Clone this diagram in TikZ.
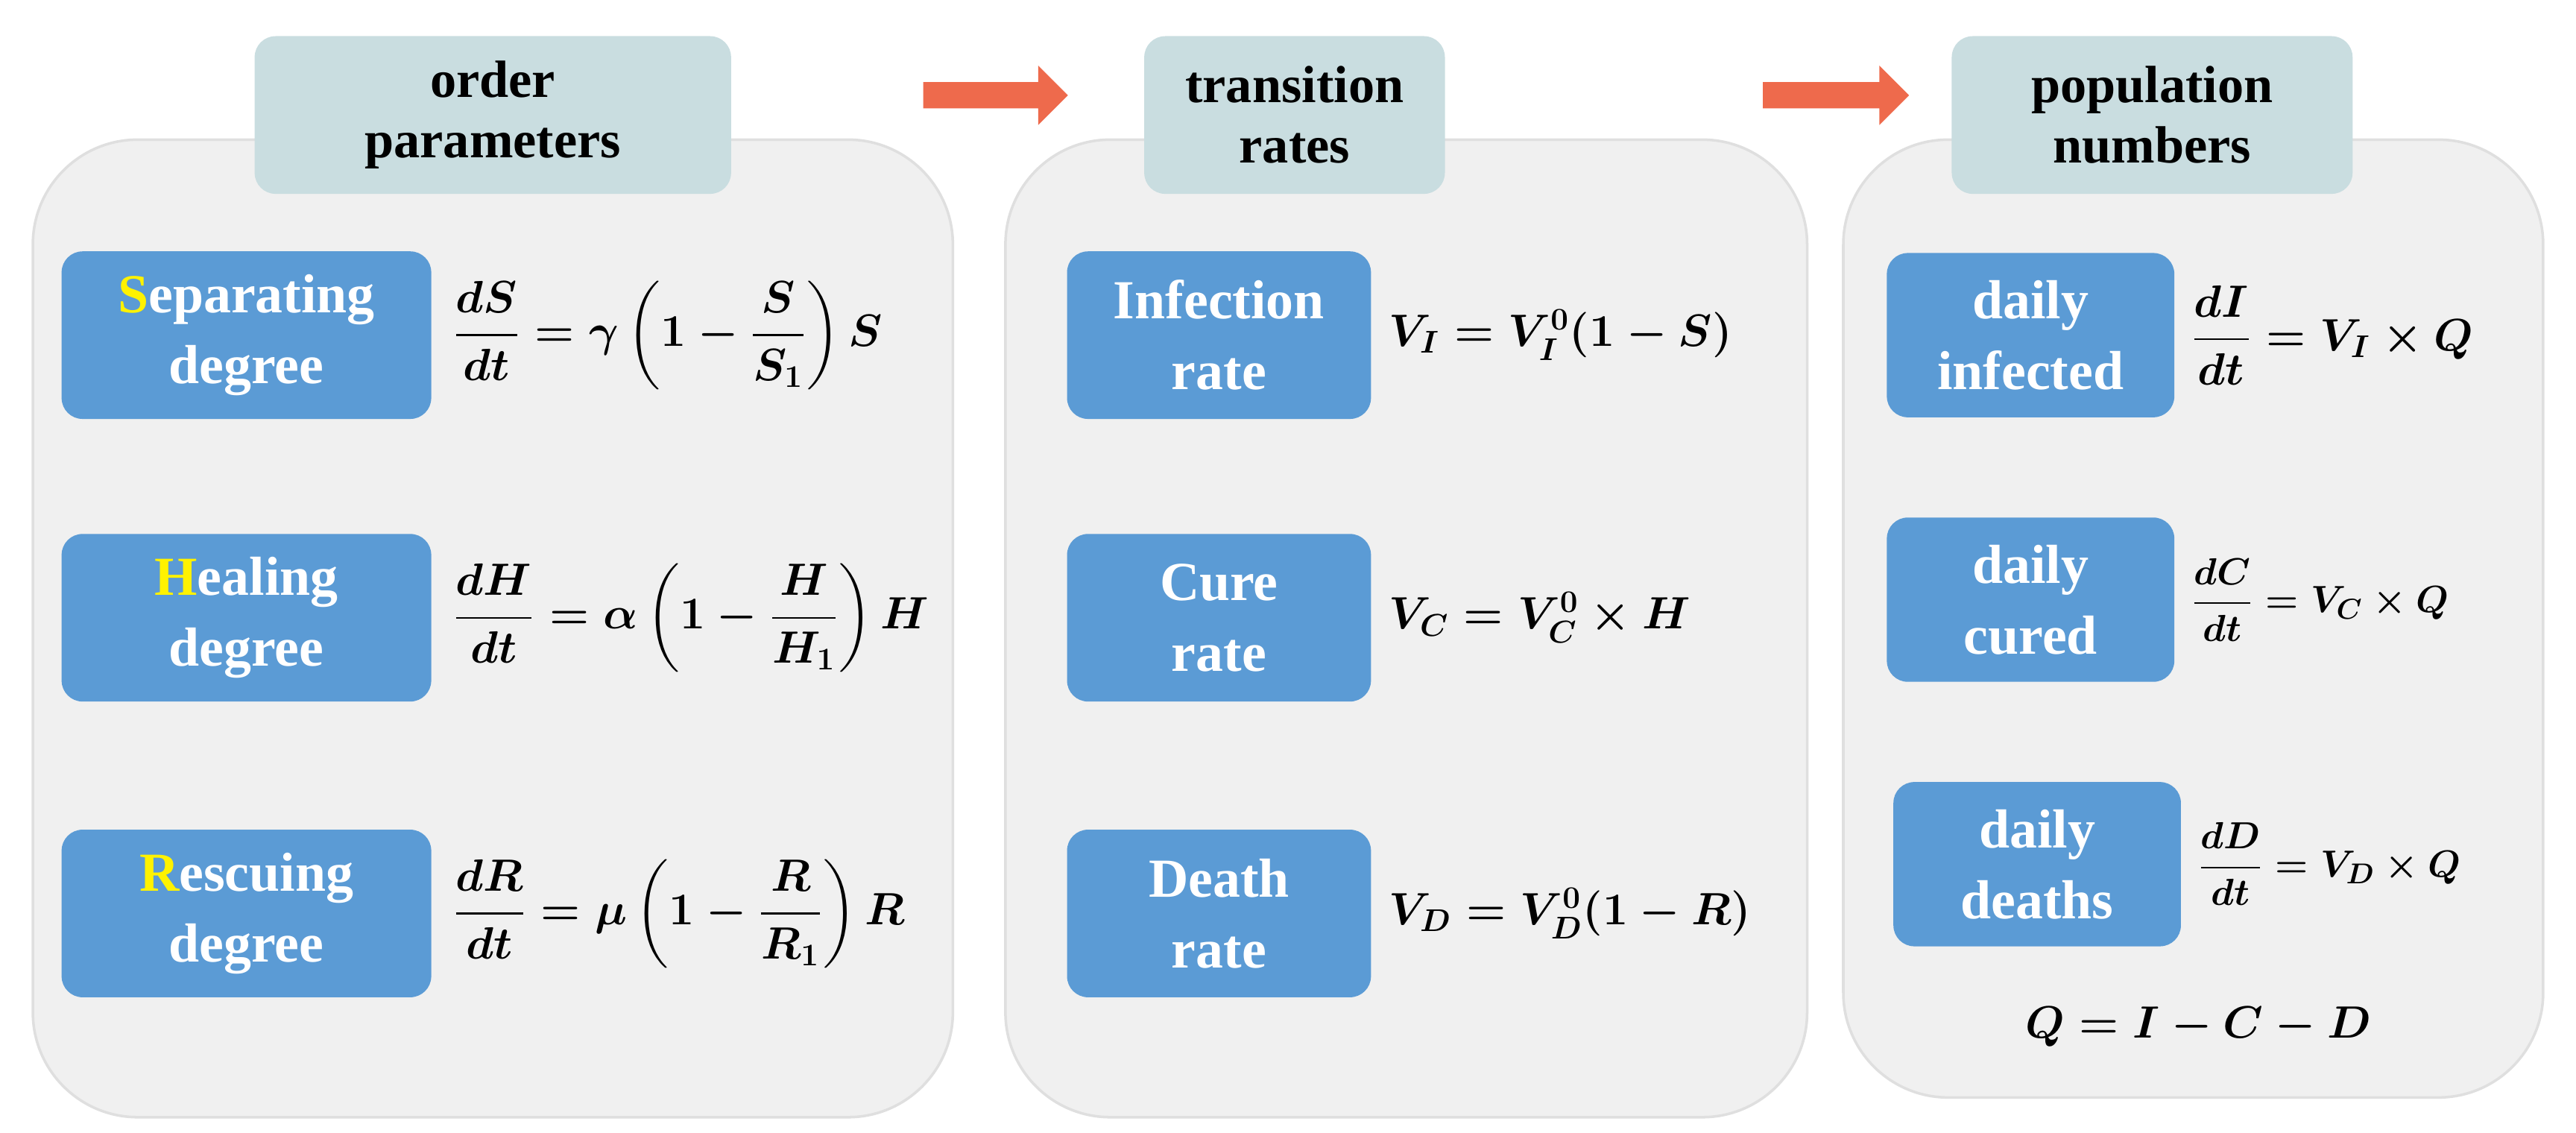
\documentclass[tikz,border=0pt]{standalone}
\usepackage{fontspec}
\setmainfont{Liberation Serif}
\usepackage{amsmath}
\begin{document}
\begin{tikzpicture}[x=0.02204cm,y=-0.02204cm,
 panel/.style={draw=gray!25,line width=1pt,fill=gray!12,rounded corners=40pt},
 head/.style={fill=hd,rounded corners=8pt,text=black,font=\fontsize{20}{23}\bfseries\selectfont,align=center},
 blue/.style={fill=bl,rounded corners=8pt,text=white,font=\fontsize{21}{27}\bfseries\selectfont,align=center},
 eq/.style={anchor=west,font=\fontsize{18}{21}\selectfont}]
\definecolor{hd}{HTML}{C9DDE0}\definecolor{bl}{HTML}{5B9BD5}\definecolor{ar}{HTML}{EE6A4C}
\useasboundingbox (0,0) rectangle (1568,689.2);
\draw[panel] (20,85) rectangle (580,680);
\draw[panel] (612,85) rectangle (1100,680);
\draw[panel] (1122,85) rectangle (1548,668);
\node[head,minimum width=290*0.02204cm,minimum height=96*0.02204cm] (h1) at (300,70) {order\\parameters};
\node[head,minimum width=183*0.02204cm,minimum height=96*0.02204cm] (h2) at (788,70) {transition\\rates};
\node[head,minimum width=244*0.02204cm,minimum height=96*0.02204cm] (h3) at (1310,70) {population\\numbers};
\fill[ar] (562,50)--(632,50)--(632,40)--(650,58)--(632,76)--(632,66)--(562,66)--cycle;
\fill[ar] (1073,50)--(1144,50)--(1144,40)--(1162,58)--(1144,76)--(1144,66)--(1073,66)--cycle;
\tikzset{bb/.style={blue,minimum width=#1*0.02204cm,minimum height=102*0.02204cm}}
\node[bb=225] (b1) at (150,204) {\textcolor{yellow}{S}eparating\\degree};
\node[bb=225] (b2) at (150,376) {\textcolor{yellow}{H}ealing\\degree};
\node[bb=225] (b3) at (150,556) {\textcolor{yellow}{R}escuing\\degree};
\boldmath
\node[eq] (e1) at (270,204) {$\dfrac{dS}{dt}=\gamma\left(1-\dfrac{S}{S_1}\right)S$};
\node[eq] (e2) at (270,376) {$\dfrac{dH}{dt}=\alpha\left(1-\dfrac{H}{H_1}\right)H$};
\node[eq] (e3) at (270,556) {$\dfrac{dR}{dt}=\mu\left(1-\dfrac{R}{R_1}\right)R$};
\node[bb=185] (c1) at (742,204) {Infection\\rate};
\node[bb=185] (c2) at (742,376) {Cure\\rate};
\node[bb=185] (c3) at (742,556) {Death\\rate};
\node[eq] (f1) at (840,204) {$V_I=V_I^0(1-S)$};
\node[eq] (f2) at (840,376) {$V_C=V_C^0\times H$};
\node[eq] (f3) at (840,556) {$V_D=V_D^0(1-R)$};
\node[bb=175,minimum height=100*0.02204cm] (d1) at (1236,204) {daily\\infected};
\node[bb=175,minimum height=100*0.02204cm] (d2) at (1236,365) {daily\\cured};
\node[bb=175,minimum height=100*0.02204cm] (d3) at (1240,526) {daily\\deaths};
\node[eq] (g1) at (1328,204) {$\dfrac{dI}{dt}=V_I\times Q$};
\node[eq,font=\fontsize{15}{18}\selectfont] (g2) at (1328,365) {$\dfrac{dC}{dt}=V_C\times Q$};
\node[eq,font=\fontsize{15}{18}\selectfont] (g3) at (1332,526) {$\dfrac{dD}{dt}=V_D\times Q$};
\node[font=\fontsize{17}{20}\selectfont] (q) at (1338,625) {$Q=I-C-D$};
\end{tikzpicture}
\end{document}
